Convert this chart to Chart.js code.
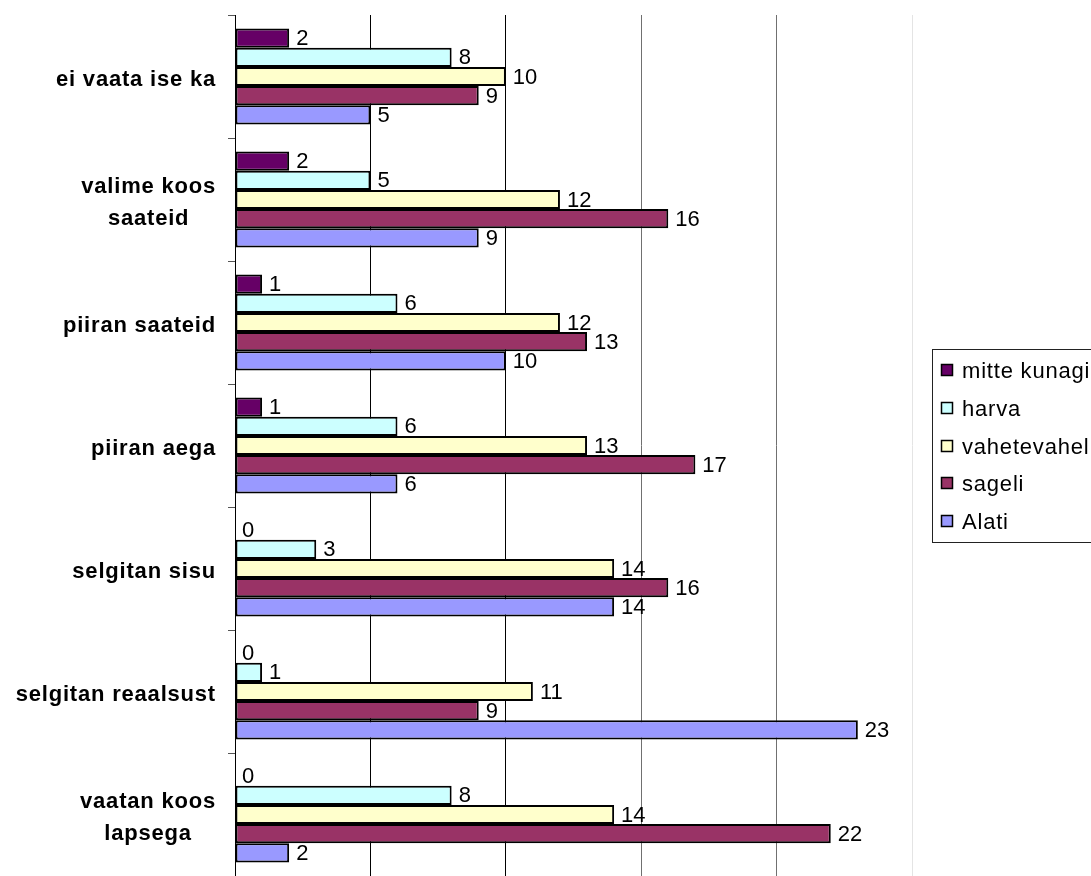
<!DOCTYPE html>
<html>
<head>
<meta charset="utf-8">
<script src="https://cdn.jsdelivr.net/npm/chart.js@4.4.1/dist/chart.umd.min.js"></script>
<style>
    html, body { margin: 0; padding: 0; background: #fff; }
    canvas { display: block; }
</style>
</head>
<body>
<canvas id="bar-chart" width="1091" height="876"></canvas>
<script>
let categories = [
    ['ei vaata ise ka'],
    ['valime koos', 'saateid'],
    ['piiran saateid'],
    ['piiran aega'],
    ['selgitan sisu'],
    ['selgitan reaalsust'],
    ['vaatan koos', 'lapsega']
];
let seriesNames = ['mitte kunagi', 'harva', 'vahetevahel', 'sageli', 'Alati'];
let mitteKunagi = [2, 2, 1, 1, 0, 0, 0];
let harva = [8, 5, 6, 6, 3, 1, 8];
let vahetevahel = [10, 12, 12, 13, 14, 11, 14];
let sageli = [9, 16, 13, 17, 16, 9, 22];
let alati = [5, 9, 10, 6, 14, 23, 2];
let xTicks = [0, 5, 10, 15, 20, 25];

let colors = ['#660066', '#ccffff', '#ffffcc', '#993366', '#9999ff'];
let fontFamily = '"Liberation Sans", Arial, sans-serif';

// value next to the end of every bar
const valueLabels = {
    id: 'valueLabels',
    afterDatasetsDraw(chart) {
        let ctx = chart.ctx;
        ctx.save();
        ctx.font = '22px ' + fontFamily;
        ctx.fillStyle = '#000';
        ctx.textAlign = 'left';
        ctx.textBaseline = 'middle';
        chart.data.datasets.forEach((ds, i) => {
            chart.getDatasetMeta(i).data.forEach((bar, j) => {
                ctx.fillText(String(ds.data[j]), bar.x + 7, bar.y + 1);
            });
        });
        ctx.restore();
    }
};

// category names, block right aligned, lines centred inside the block
const categoryLabels = {
    id: 'categoryLabels',
    afterDraw(chart) {
        let ctx = chart.ctx;
        let scale = chart.scales.y;
        ctx.save();
        ctx.font = 'bold 22px ' + fontFamily;
        ctx.letterSpacing = '0.8px';
        ctx.fillStyle = '#000';
        ctx.textAlign = 'center';
        ctx.textBaseline = 'middle';
        let right = scale.right - 19;
        let lineH = 32;
        categories.forEach((lines, i) => {
            let y = scale.getPixelForTick(i);
            let widest = Math.max(...lines.map(l => ctx.measureText(l).width));
            let cx = right - widest / 2;
            let y0 = y - (lines.length - 1) * lineH / 2;
            lines.forEach((l, k) => ctx.fillText(l, cx, y0 + k * lineH + 3));
        });
        ctx.restore();
    }
};

// boxed legend on the right
const legendBox = {
    id: 'legendBox',
    afterDraw(chart) {
        let ctx = chart.ctx;
        let area = chart.chartArea;
        let sets = chart.data.datasets;
        let rowH = 37.75;
        let h = 42 + rowH * (sets.length - 1);
        let left = area.right + 20;
        let top = Math.round((area.top + area.bottom) / 2 - h / 2);
        ctx.save();
        ctx.strokeStyle = '#222';
        ctx.lineWidth = 1;
        ctx.strokeRect(left + 0.5, top + 0.5, 200, h);
        ctx.font = '22px ' + fontFamily;
        ctx.letterSpacing = '0.8px';
        ctx.textAlign = 'left';
        ctx.textBaseline = 'middle';
        sets.forEach((ds, i) => {
            let cy = Math.round(top + 22 + i * rowH);
            ctx.fillStyle = ds.backgroundColor;
            ctx.fillRect(left + 9, cy - 7, 11, 11);
            ctx.strokeStyle = '#000';
            ctx.lineWidth = 1.5;
            ctx.strokeRect(left + 9.5, cy - 6.5, 11, 11);
            ctx.fillStyle = '#000';
            ctx.fillText(ds.label, left + 30, cy + 1);
        });
        ctx.restore();
    }
};

function drawChart(canvasId) {
    let seriesData = [mitteKunagi, harva, vahetevahel, sageli, alati];
    let datasets = seriesNames.map((name, i) => ({
        label: name,
        data: seriesData[i],
        backgroundColor: colors[i],
        borderColor: '#000',
        borderWidth: c => (c.raw === 0 ? 0 : 2),
        borderSkipped: false,
        categoryPercentage: 0.78,
        barPercentage: 1
    }));

    let chart_ele = document.getElementById(canvasId).getContext('2d');

    new Chart(chart_ele, {
        type: 'bar',
        data: {
            labels: categories,
            datasets: datasets
        },
        options: {
            responsive: false,
            animation: false,
            indexAxis: 'y',
            layout: {
                padding: { top: 15, right: 179, bottom: 0, left: 0 }
            },
            plugins: {
                legend: { display: false },
                tooltip: { enabled: false }
            },
            scales: {
                x: {
                    min: xTicks[0],
                    max: xTicks[xTicks.length - 1],
                    afterBuildTicks: s => { s.ticks = xTicks.map(v => ({ value: v })); },
                    ticks: { display: false },
                    grid: {
                        drawTicks: false,
                        color: c => {
                            let v = c.tick ? c.tick.value : 0;
                            if (v === 25) return '#e4e4e4';
                            return v > 10 ? '#707070' : '#000';
                        },
                        lineWidth: 1
                    },
                    border: { display: false }
                },
                y: {
                    afterFit: s => { s.width = 235; },
                    ticks: { display: false },
                    grid: {
                        drawOnChartArea: false,
                        drawTicks: true,
                        tickLength: 7,
                        color: '#555'
                    },
                    border: { display: true, color: '#000', width: 1 }
                }
            }
        },
        plugins: [valueLabels, categoryLabels, legendBox]
    });
}

drawChart('bar-chart');
</script>
</body>
</html>
